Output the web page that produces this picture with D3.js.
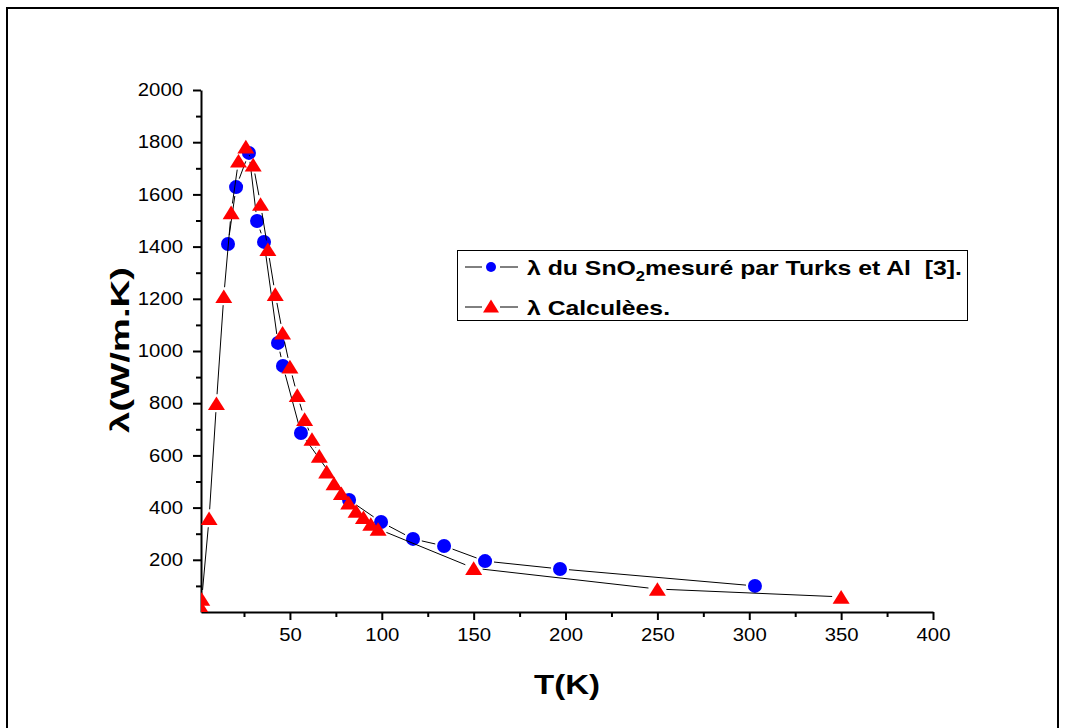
<!DOCTYPE html>
<html>
<head>
<meta charset="utf-8">
<script src="https://cdn.jsdelivr.net/npm/d3@7"></script>
<style>
  html, body { margin: 0; padding: 0; background: #fff; }
  svg { display: block; font-family: "Liberation Sans", Arial, sans-serif; }
</style>
</head>
<body>
<div id="chart"></div>
<script>
// measured (Turks et Al [3])
const tMeasured = [16.3, 20.7, 27.7, 32.1, 35.9, 43.5, 46.2, 56, 82.2, 99.6, 117, 133.9, 156.2, 197, 303.1];
const lamMeasured = [1410, 1628, 1759, 1498, 1418, 1031, 943, 686, 429, 345, 280, 253, 195, 165, 100];

// calculated
const tCalc = [1, 2, 6, 10, 14, 18, 22, 26, 30, 34, 38, 42, 46, 50, 54, 58, 62, 66, 70, 74, 78, 82, 86, 90, 94, 98, 150, 250, 350];
const lamCalc = [25, 50, 359, 800, 1210, 1531, 1729, 1783, 1714, 1563, 1390, 1218, 1070, 940, 831, 739, 663, 598, 538, 493, 455, 419, 387, 363, 337, 318, 168, 88, 58];

const xMajor = [50, 100, 150, 200, 250, 300, 350, 400];
const xMinor = [25, 75, 125, 175, 225, 275, 325, 375];
const yMajor = [200, 400, 600, 800, 1000, 1200, 1400, 1600, 1800, 2000];
const yMinor = [100, 300, 500, 700, 900, 1100, 1300, 1500, 1700, 1900];

const legendLabels = ["λ du SnO", "λ Calculèes."];

const width = 1072, height = 728;

const svg = d3.select('#chart').append('svg')
  .attr('width', width)
  .attr('height', height);

// outer frame
svg.append('rect')
  .attr('x', 7).attr('y', 8)
  .attr('width', 1051).attr('height', 740)
  .attr('fill', 'none')
  .attr('stroke', '#000')
  .attr('stroke-width', 2);

let x = d3.scaleLinear().domain([1.6, 400]).range([201, 933]);
let y = d3.scaleLinear().domain([0, 2000]).range([612, 90]);

// clip for the data
svg.append('clipPath').attr('id', 'plotclip')
  .append('rect')
  .attr('x', x.range()[0]).attr('y', 60)
  .attr('width', x.range()[1] - x.range()[0] + 20)
  .attr('height', y.range()[0] - 60);

// axes
let gx = svg.append('g').attr('transform', `translate(0,${y.range()[0]})`);
gx.call(d3.axisBottom(x).tickValues(xMinor).tickSize(5).tickSizeOuter(0).tickFormat(''));
gx.call(g => g.select('.domain').remove());
let gx2 = svg.append('g').attr('transform', `translate(0,${y.range()[0]})`);
gx2.call(d3.axisBottom(x).tickValues(xMajor).tickSize(8).tickSizeOuter(0).tickPadding(8).tickFormat(d3.format('d')));

let gy = svg.append('g').attr('transform', `translate(${x.range()[0]},0)`);
gy.call(d3.axisLeft(y).tickValues(yMinor).tickSize(5).tickSizeOuter(0).tickFormat(''));
gy.call(g => g.select('.domain').remove());
let gy2 = svg.append('g').attr('transform', `translate(${x.range()[0]},0)`);
gy2.call(d3.axisLeft(y).tickValues(yMajor).tickSize(8).tickSizeOuter(0).tickPadding(10).tickFormat(d3.format('d')));

svg.selectAll('.domain').attr('stroke', '#000').attr('stroke-width', 2);
svg.selectAll('.tick line').attr('stroke', '#000').attr('stroke-width', 2);
svg.selectAll('.tick text')
  .attr('fill', '#000')
  .attr('textLength', d => String(d).length * 11.3)
  .attr('lengthAdjust', 'spacingAndGlyphs')
  .style('font-size', '18px')
  .style('font-family', '"Liberation Sans", Arial, sans-serif');

// axis titles
svg.append('text')
  .attr('x', 534).attr('y', 694)
  .attr('textLength', 66).attr('lengthAdjust', 'spacingAndGlyphs')
  .style('font-size', '28px').style('font-weight', 'bold')
  .text('T(K)');

svg.append('text')
  .attr('transform', 'translate(129,433) rotate(-90)')
  .attr('textLength', 166).attr('lengthAdjust', 'spacingAndGlyphs')
  .style('font-size', '25px').style('font-weight', 'bold')
  .text('λ(W/m.K)');

// line with Origin-like gaps around the markers
function gapSegments(pts, gap) {
  let segs = [];
  for (let i = 0; i < pts.length - 1; i++) {
    let [x1, y1] = pts[i], [x2, y2] = pts[i + 1];
    let dx = x2 - x1, dy = y2 - y1, len = Math.hypot(dx, dy);
    if (len <= 2 * gap) continue;
    let ux = dx / len, uy = dy / len;
    segs.push([x1 + ux * gap, y1 + uy * gap, x2 - ux * gap, y2 - uy * gap]);
  }
  return segs;
}

function triPath(w) {
  // apex-up triangle, centred on its bounding box
  let h = w * 0.8;
  return `M0,${-h / 2}L${w / 2},${h / 2}L${-w / 2},${h / 2}Z`;
}

function drawSeries(xs, ys, kind) {
  let g = svg.append('g').attr('clip-path', 'url(#plotclip)');
  let pts = xs.map((d, i) => [x(d), y(ys[i])]);
  g.selectAll('line.seg')
    .data(gapSegments(pts, 9))
    .enter().append('line')
    .attr('class', 'seg')
    .attr('x1', d => d[0]).attr('y1', d => d[1])
    .attr('x2', d => d[2]).attr('y2', d => d[3])
    .attr('stroke', '#000').attr('stroke-width', 1);
  if (kind === 'circle') {
    g.selectAll('circle.pt')
      .data(pts)
      .enter().append('circle')
      .attr('class', 'pt')
      .attr('cx', d => d[0]).attr('cy', d => d[1])
      .attr('r', 7)
      .attr('fill', '#0000ff');
  } else {
    g.selectAll('path.pt')
      .data(pts)
      .enter().append('path')
      .attr('class', 'pt')
      .attr('d', triPath(17))
      .attr('transform', d => `translate(${d[0]},${d[1]})`)
      .attr('fill', '#ff0000');
  }
}

drawSeries(tMeasured, lamMeasured, 'circle');
drawSeries(tCalc, lamCalc, 'triangle');

// legend
let lg = svg.append('g');
lg.append('rect')
  .attr('x', 457.5).attr('y', 250.5)
  .attr('width', 510).attr('height', 70)
  .attr('fill', '#fff')
  .attr('stroke', '#000').attr('stroke-width', 1);

const rows = [267, 307];
rows.forEach((ry, i) => {
  lg.append('line').attr('x1', 465).attr('x2', 482).attr('y1', ry).attr('y2', ry)
    .attr('stroke', '#000').attr('stroke-width', 1);
  lg.append('line').attr('x1', 500).attr('x2', 518).attr('y1', ry).attr('y2', ry)
    .attr('stroke', '#000').attr('stroke-width', 1);
  if (i === 0) {
    lg.append('circle').attr('cx', 491).attr('cy', ry).attr('r', 5).attr('fill', '#0000ff');
  } else {
    lg.append('path').attr('d', triPath(16)).attr('transform', `translate(491,${ry - 1})`).attr('fill', '#ff0000');
  }
});

let t1 = lg.append('text')
  .attr('x', 527).attr('y', rows[0] + 8)
  .attr('textLength', 435).attr('lengthAdjust', 'spacingAndGlyphs')
  .style('white-space', 'pre')
  .style('font-size', '21px').style('font-weight', 'bold');
t1.append('tspan').text(legendLabels[0]);
t1.append('tspan').attr('dy', 6).style('font-size', '14px').text('2');
t1.append('tspan').attr('dy', -6).text('mesuré par Turks et Al  [3].');

lg.append('text')
  .attr('x', 527).attr('y', rows[1] + 8)
  .attr('textLength', 143).attr('lengthAdjust', 'spacingAndGlyphs')
  .style('font-size', '21px').style('font-weight', 'bold')
  .text(legendLabels[1]);
</script>
</body>
</html>
